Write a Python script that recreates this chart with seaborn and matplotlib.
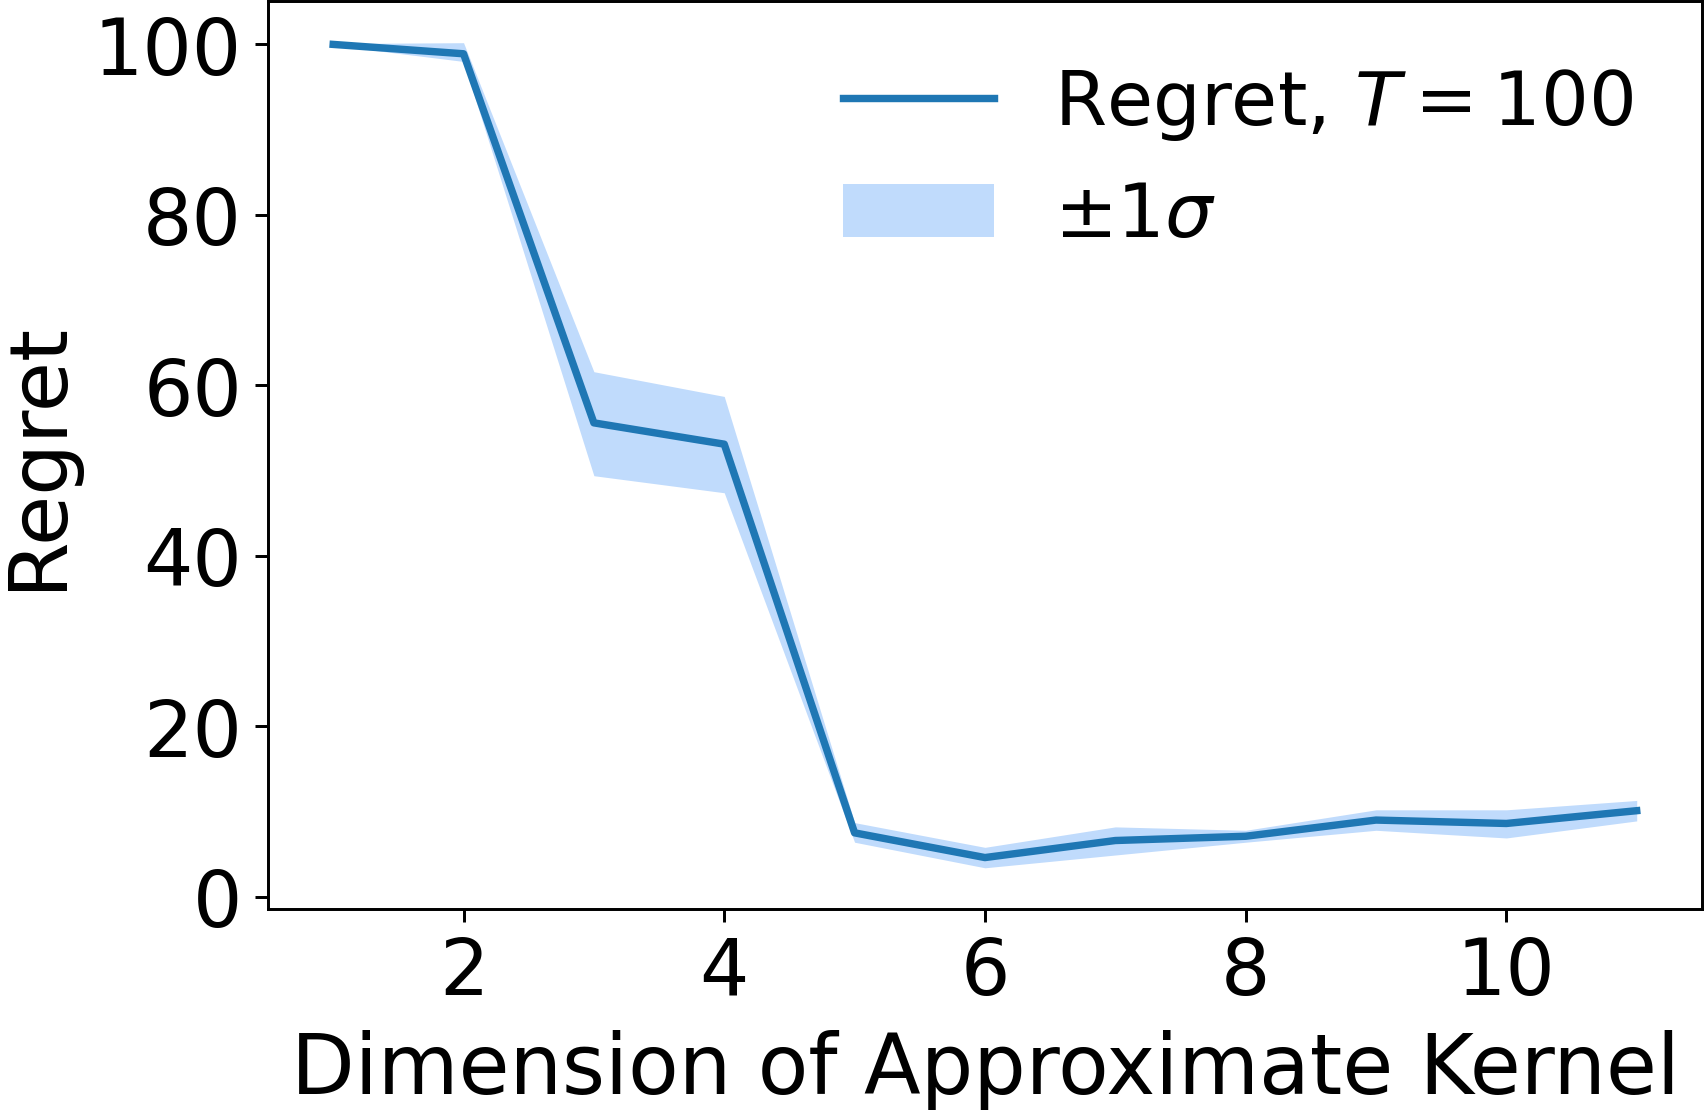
"""
近似カーネル次元ごとの Regret (T=100) と ±1σ 帯を描く。
出力: out.png
"""

import matplotlib
matplotlib.use('Agg')
import matplotlib.pyplot as plt
import seaborn as sns

# 近似カーネルの次元
DIMS = [1, 2, 3, 4, 5, 6, 7, 8, 9, 10, 11]
# 平均 Regret
REGRET_MEAN = [100.0, 98.9, 55.6, 53.1, 7.5, 4.6, 6.6, 7.1, 9.0, 8.6, 10.1]
# ±1σ の上下端
REGRET_UPPER = [100.1, 100.2, 61.6, 58.7, 8.7, 5.8, 8.2, 7.8, 10.2, 10.2, 11.3]
REGRET_LOWER = [99.9, 98.0, 49.4, 47.4, 6.4, 3.4, 4.9, 6.4, 7.8, 6.9, 8.9]

LINE_COLOR = '#1f77b4'
BAND_COLOR = '#c0dbfc'


def main():
    fig, ax = plt.subplots(figsize=(6.4, 4.1625), dpi=266.72)
    fig.subplots_adjust(left=0.157, right=0.997, top=0.9985, bottom=0.181)

    band = ax.fill_between(DIMS, REGRET_LOWER, REGRET_UPPER, color=BAND_COLOR,
                           linewidth=0, label=r'$\pm 1\sigma$')
    sns.lineplot(x=DIMS, y=REGRET_MEAN, ax=ax, color=LINE_COLOR, linewidth=2,
                 errorbar=None, label=r'Regret, $T = 100$', legend=False)
    line = ax.lines[0]

    ax.set_xlabel('Dimension of Approximate Kernel', fontsize=22.4, labelpad=5)
    ax.set_ylabel('Regret', fontsize=22, labelpad=4.5)
    ax.tick_params(labelsize=21)
    ax.set_xticks([2, 4, 6, 8, 10])
    ax.set_yticks([0, 20, 40, 60, 80, 100])

    ax.legend([line, band], [r'Regret, $T = 100$', r'$\pm 1\sigma$'],
              loc='upper right', frameon=False, fontsize=20.3,
              bbox_to_anchor=(0.999, 1.003))

    fig.savefig('out.png', dpi=266.72)
    plt.close(fig)


if __name__ == '__main__':
    main()
